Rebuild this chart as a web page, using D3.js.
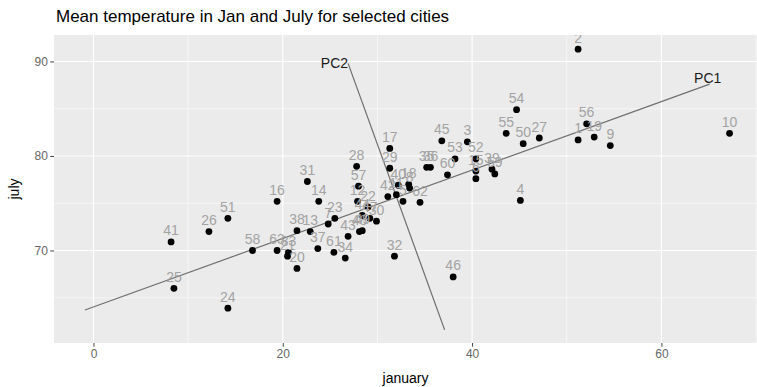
<!DOCTYPE html>
<html>
<head>
<meta charset="utf-8">
<script src="https://cdn.jsdelivr.net/npm/d3@7"></script>
<style>
  body { margin: 0; background: #fff; }
  svg { font-family: "Liberation Sans", Arial, sans-serif; }
</style>
</head>
<body>
<div id="wrapper"></div>
<script>
// city ids and mean temperatures
const cities = [41, 26, 51, 58, 25, 24, 16, 31, 14, 38, 13, 7, 23, 63, 33, 21, 20, 37, 61, 34,
  43, 48, 49, 44, 22, 47, 30, 12, 57, 28, 17, 29, 42, 40, 18, 8, 11, 5, 62, 32,
  46, 4, 45, 3, 35, 36, 53, 60, 52, 15, 6, 39, 59, 55, 54, 50, 27, 2, 56, 1, 19, 9, 10]
const january = [8.2, 12.2, 14.2, 16.8, 8.5, 14.2, 19.4, 22.6, 23.8, 21.5, 22.9, 24.8, 25.5, 19.4, 20.6, 20.5, 21.5, 23.7, 25.4, 26.6,
  26.9, 28.1, 28.4, 28.4, 29.0, 29.2, 29.9, 27.9, 28.0, 27.8, 31.3, 31.3, 31.1, 32.2, 33.3, 33.4, 32.0, 32.7, 34.5, 31.8,
  38.0, 45.1, 36.8, 39.5, 35.2, 35.6, 38.2, 37.4, 40.4, 40.4, 40.4, 42.1, 42.4, 43.6, 44.7, 45.4, 47.1, 51.2, 52.1, 51.2, 52.9, 54.6, 67.2]
const july = [70.9, 72.0, 73.4, 70.0, 66.0, 63.9, 75.2, 77.3, 75.2, 72.1, 72.0, 72.8, 73.4, 70.0, 69.8, 69.4, 68.1, 70.2, 69.8, 69.2,
  71.5, 72.0, 72.1, 73.7, 74.6, 73.4, 73.1, 75.2, 76.8, 78.9, 80.8, 78.7, 75.7, 76.9, 77.0, 76.6, 75.9, 75.2, 75.1, 69.4,
  67.2, 75.3, 81.6, 81.5, 78.8, 78.8, 79.7, 78.0, 79.7, 78.4, 77.6, 78.6, 78.1, 82.4, 84.9, 81.3, 81.9, 91.3, 83.4, 81.7, 82.0, 81.1, 82.4]

// principal component axes, end points in data units
const pcNames = ["PC1", "PC2"]
const pcStart = [[-0.9, 63.7], [37.1, 61.6]]
const pcEnd = [[65.1, 87.6], [26.9, 89.8]]

const xTicks = [0, 20, 40, 60]
const xMinor = [10, 30, 50, 70]
const yTicks = [70, 80, 90]
const yMinor = [65, 75, 85]

const data = cities.map((c, i) => ({ id: c, x: january[i], y: july[i] }))

let dimensions = {
  width: 757,
  height: 387,
  margin: { top: 35, right: 0, bottom: 44, left: 54 },
}
dimensions.boundedWidth = dimensions.width - dimensions.margin.left - dimensions.margin.right
dimensions.boundedHeight = dimensions.height - dimensions.margin.top - dimensions.margin.bottom

const wrapper = d3.select("#wrapper")
  .append("svg")
    .attr("width", dimensions.width)
    .attr("height", dimensions.height)

const bounds = wrapper.append("g")
  .attr("transform", `translate(${dimensions.margin.left},${dimensions.margin.top})`)

const xScale = d3.scaleLinear()
  .domain([-4.17, 70.1])
  .range([0, dimensions.boundedWidth])

const yScale = d3.scaleLinear()
  .domain([60.21, 92.8])
  .range([dimensions.boundedHeight, 0])

bounds.append("clipPath")
    .attr("id", "panel-clip")
  .append("rect")
    .attr("width", dimensions.boundedWidth)
    .attr("height", dimensions.boundedHeight)

bounds.append("rect")
  .attr("width", dimensions.boundedWidth)
  .attr("height", dimensions.boundedHeight)
  .attr("fill", "#ebebeb")

const grid = bounds.append("g").attr("clip-path", "url(#panel-clip)")

grid.selectAll(".xminor").data(xMinor).join("line")
  .attr("x1", d => xScale(d)).attr("x2", d => xScale(d))
  .attr("y1", 0).attr("y2", dimensions.boundedHeight)
  .attr("stroke", "#fff").attr("stroke-width", 0.55)
grid.selectAll(".yminor").data(yMinor).join("line")
  .attr("x1", 0).attr("x2", dimensions.boundedWidth)
  .attr("y1", d => yScale(d)).attr("y2", d => yScale(d))
  .attr("stroke", "#fff").attr("stroke-width", 0.55)
grid.selectAll(".xmajor").data(xTicks).join("line")
  .attr("x1", d => xScale(d)).attr("x2", d => xScale(d))
  .attr("y1", 0).attr("y2", dimensions.boundedHeight)
  .attr("stroke", "#fff").attr("stroke-width", 1.1)
grid.selectAll(".ymajor").data(yTicks).join("line")
  .attr("x1", 0).attr("x2", dimensions.boundedWidth)
  .attr("y1", d => yScale(d)).attr("y2", d => yScale(d))
  .attr("stroke", "#fff").attr("stroke-width", 1.1)

const panel = bounds.append("g").attr("clip-path", "url(#panel-clip)")

// PC lines
panel.selectAll(".pc-line").data(pcNames).join("line")
  .attr("x1", (d, i) => xScale(pcStart[i][0]))
  .attr("y1", (d, i) => yScale(pcStart[i][1]))
  .attr("x2", (d, i) => xScale(pcEnd[i][0]))
  .attr("y2", (d, i) => yScale(pcEnd[i][1]))
  .attr("stroke", "#6e6e6e")
  .attr("stroke-width", 1.2)

panel.append("text")
  .attr("x", xScale(pcEnd[0][0]) - 2)
  .attr("y", yScale(pcEnd[0][1]) - 1)
  .attr("text-anchor", "middle")
  .attr("fill", "#1a1a1a")
  .style("font-size", "14px")
  .text(pcNames[0])

panel.append("text")
  .attr("x", xScale(pcEnd[1][0]))
  .attr("y", yScale(pcEnd[1][1]))
  .attr("dy", "0.36em")
  .attr("text-anchor", "end")
  .attr("fill", "#1a1a1a")
  .style("font-size", "14px")
  .text(pcNames[1])

// points
panel.selectAll("circle").data(data).join("circle")
  .attr("cx", d => xScale(d.x))
  .attr("cy", d => yScale(d.y))
  .attr("r", 3.4)
  .attr("fill", "#000")

// city labels (they overlap in the original too)
panel.selectAll(".city-label").data(data).join("text")
  .attr("class", "city-label")
  .attr("x", d => xScale(d.x))
  .attr("y", d => yScale(d.y) - 6.5)
  .attr("text-anchor", "middle")
  .attr("fill", "#a3a3a3")
  .style("font-size", "14px")
  .text(d => d.id)

// axes
const xAxisGenerator = d3.axisBottom(xScale)
  .tickValues(xTicks)
  .tickSize(3.7)
  .tickPadding(2.5)

const xAxis = bounds.append("g")
  .call(xAxisGenerator)
  .attr("transform", `translate(0,${dimensions.boundedHeight})`)
  .style("font-size", "12px")
  .style("font-family", "Liberation Sans, Arial, sans-serif")
xAxis.select(".domain").remove()
xAxis.selectAll(".tick line").attr("stroke", "#444")
xAxis.selectAll(".tick text").attr("fill", "#666")

const yAxisGenerator = d3.axisLeft(yScale)
  .tickValues(yTicks)
  .tickSize(3.7)
  .tickPadding(2.5)

const yAxis = bounds.append("g")
  .call(yAxisGenerator)
  .style("font-size", "12px")
  .style("font-family", "Liberation Sans, Arial, sans-serif")
yAxis.select(".domain").remove()
yAxis.selectAll(".tick line").attr("stroke", "#444")
yAxis.selectAll(".tick text").attr("fill", "#666")

// titles
wrapper.append("text")
  .attr("x", dimensions.margin.left + 2)
  .attr("y", 22)
  .attr("fill", "#000")
  .style("font-size", "17px")
  .text("Mean temperature in Jan and July for selected cities")

wrapper.append("text")
  .attr("x", dimensions.margin.left + dimensions.boundedWidth / 2)
  .attr("y", 383)
  .attr("text-anchor", "middle")
  .attr("fill", "#000")
  .style("font-size", "14px")
  .text("january")

wrapper.append("text")
  .attr("transform", `translate(19,${dimensions.margin.top + dimensions.boundedHeight / 2}) rotate(-90)`)
  .attr("text-anchor", "middle")
  .attr("fill", "#000")
  .style("font-size", "14px")
  .text("july")
</script>
</body>
</html>
